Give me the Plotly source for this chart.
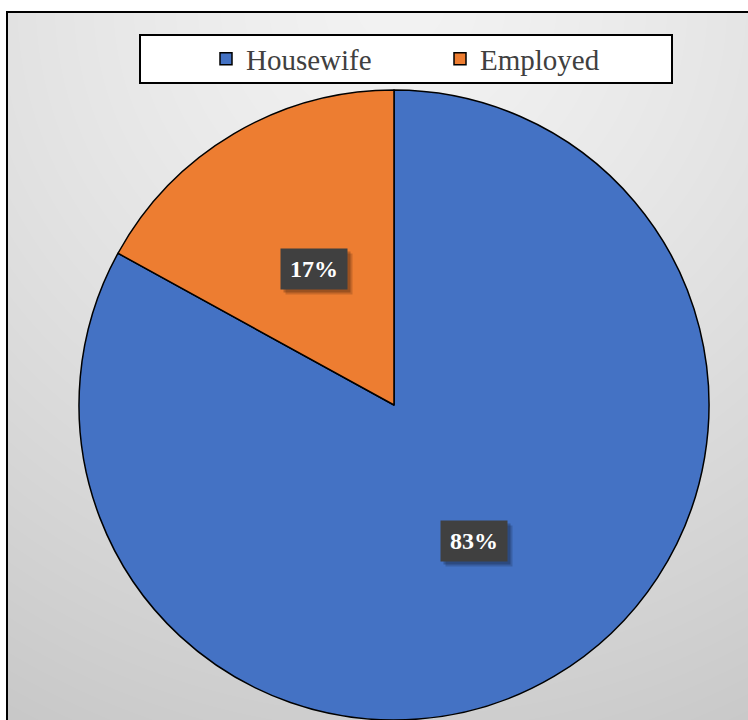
import base64
import math
import struct
import zlib

import plotly.graph_objects as go

# ---- data ---------------------------------------------------------------
categories = ["Housewife", "Employed"]
values = [83, 17]
slice_colors = ["#4472C4", "#ED7D31"]

# ---- page geometry (pixels) --------------------------------------------
W, H = 748, 720
FRAME_L, FRAME_T = 7, 12
PIE_CX, PIE_CY, PIE_R = 394, 405, 315  # centre measured from the top
SERIF = "Times New Roman, Liberation Serif, DejaVu Serif, serif"


def px_x(x):
    return x / W


def px_y(y):
    return 1 - y / H


def gradient_png(w, h, cx, cy):
    """Soft radial grey fill for the chart area, encoded as a PNG data URI."""
    rows = bytearray()
    for j in range(h):
        rows.append(0)
        for i in range(w):
            d = math.hypot(i - cx, j - cy)
            g = 243 - 43 * (d / 820) ** 1.3
            g = int(max(190, min(245, g)))
            rows += bytes((g, g, g))

    def chunk(tag, data):
        body = tag + data
        return struct.pack(">I", len(data)) + body + struct.pack(">I", zlib.crc32(body) & 0xFFFFFFFF)

    png = (b"\x89PNG\r\n\x1a\n"
           + chunk(b"IHDR", struct.pack(">IIBBBBB", w, h, 8, 2, 0, 0, 0))
           + chunk(b"IDAT", zlib.compress(bytes(rows), 9))
           + chunk(b"IEND", b""))
    return "data:image/png;base64," + base64.b64encode(png).decode()


bg_w, bg_h = W - FRAME_L, H - FRAME_T
bg_uri = gradient_png(bg_w, bg_h, 393, -12)

fig = go.Figure()

fig.add_trace(go.Pie(
    labels=categories,
    values=values,
    sort=False,
    direction="clockwise",
    rotation=0,
    marker=dict(colors=slice_colors, line=dict(color="black", width=1.5)),
    textinfo="none",
    hoverinfo="label+percent",
    domain=dict(
        x=[px_x(PIE_CX - PIE_R), px_x(PIE_CX + PIE_R)],
        y=[0, (2 * PIE_R) / H],
    ),
    showlegend=True,
))

# ---- percentage labels at half radius along each slice's bisector -------
total = sum(values)
start = 0.0
annotations = []
for cat, val in zip(categories, values):
    frac = val / total
    mid = (start + frac / 2) * 2 * math.pi  # clockwise from 12 o'clock
    start += frac
    lx = PIE_CX + 0.5 * PIE_R * math.sin(mid)
    ly = PIE_CY - 0.5 * PIE_R * math.cos(mid)
    common = dict(
        x=px_x(lx), y=px_y(ly), xref="paper", yref="paper",
        showarrow=False, width=66, height=40, borderpad=0,
        xanchor="center", yanchor="middle",
    )
    # soft drop shadow behind the label box
    annotations.append(dict(common, text="\u00a0", bgcolor="rgba(0,0,0,0.16)",
                            xshift=5, yshift=-5))
    annotations.append(dict(common, text="\u00a0", bgcolor="rgba(0,0,0,0.22)",
                            xshift=3, yshift=-3))
    annotations.append(dict(common, text=f"<b>{val}%</b>", bgcolor="#404040",
                            font=dict(family=SERIF, size=24, color="white")))

shapes = [
    # legend box
    dict(type="rect", xref="paper", yref="paper",
         x0=px_x(140), x1=px_x(672), y0=px_y(83), y1=px_y(35),
         fillcolor="white", line=dict(color="black", width=2), layer="below"),
    # chart frame
    dict(type="rect", xref="paper", yref="paper",
         x0=px_x(FRAME_L), x1=1.05, y0=-0.05, y1=px_y(FRAME_T),
         fillcolor="rgba(0,0,0,0)", line=dict(color="black", width=2), layer="above"),
]

fig.update_layout(
    width=W, height=H,
    margin=dict(l=0, r=0, t=0, b=0, autoexpand=False),
    paper_bgcolor="white",
    plot_bgcolor="rgba(0,0,0,0)",
    font=dict(family=SERIF, color="#404040"),
    images=[dict(source=bg_uri, xref="paper", yref="paper",
                 x=px_x(FRAME_L), y=px_y(FRAME_T),
                 sizex=bg_w / W, sizey=bg_h / H,
                 xanchor="left", yanchor="top", sizing="stretch", layer="below")],
    shapes=shapes,
    annotations=annotations,
    legend=dict(
        orientation="h",
        x=px_x(206), y=px_y(59), xanchor="left", yanchor="middle",
        bgcolor="rgba(0,0,0,0)", borderwidth=0,
        font=dict(family=SERIF, size=29, color="#404040"),
        entrywidth=189, entrywidthmode="pixels",
        traceorder="normal",
    ),
)

fig.write_html("out.html")
